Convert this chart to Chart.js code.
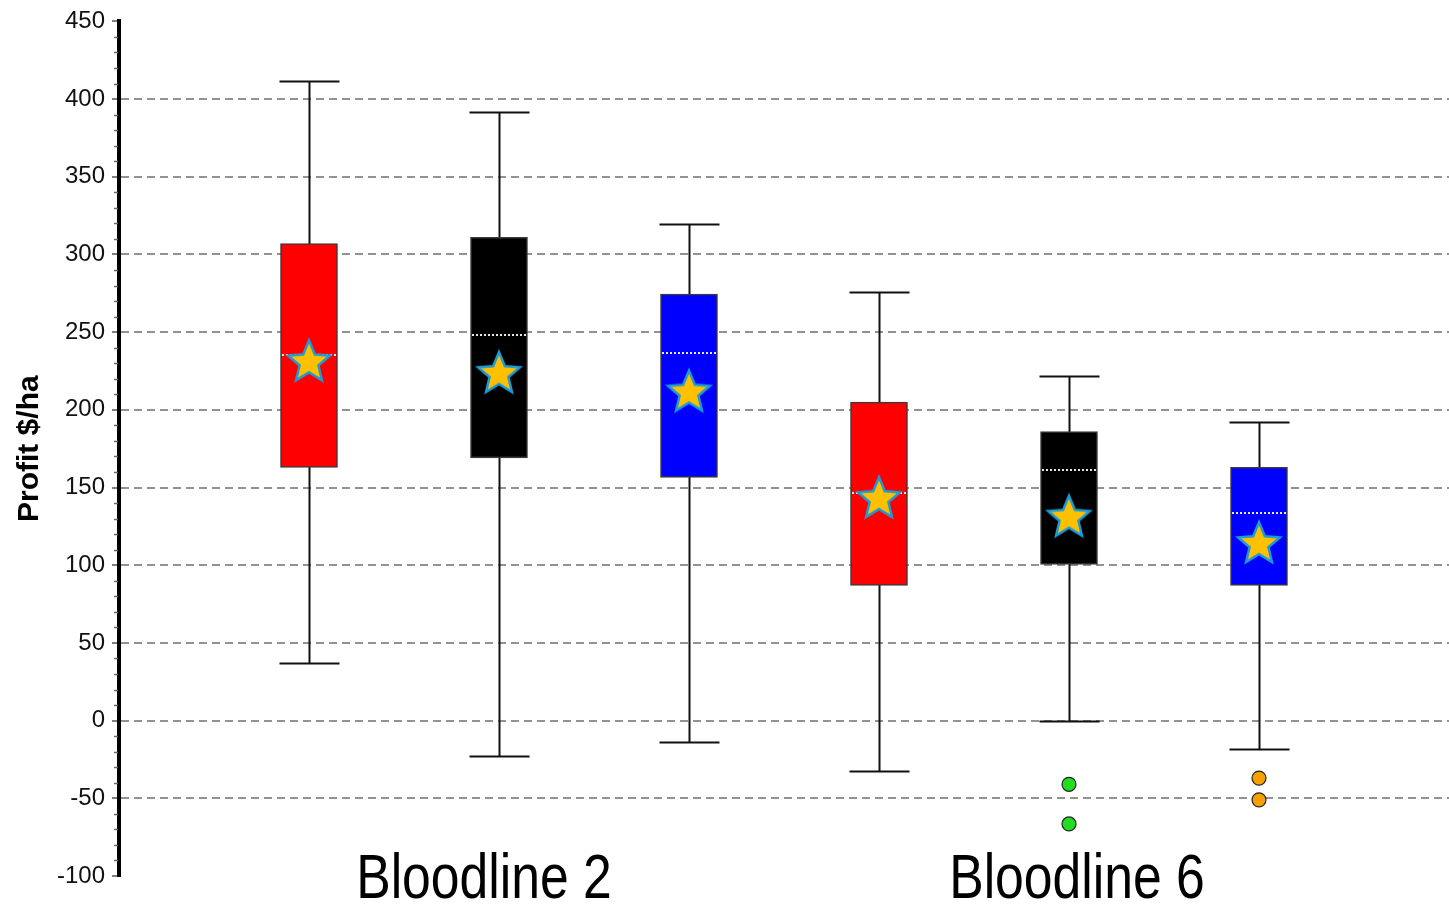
<!DOCTYPE html>
<html>
<head>
<meta charset="utf-8">
<script src="https://cdn.jsdelivr.net/npm/chart.js@4.4.1/dist/chart.umd.min.js"></script>
<style>
  html, body { margin: 0; padding: 0; background: #fff; }
  #wrap { width: 1449px; height: 907px; position: relative; }
</style>
</head>
<body>
<div id="wrap"><canvas id="boxChart"></canvas></div>
<script>
// ===== data =====
const groups = ['Bloodline 2', 'Bloodline 6'];
const groupAt = [2, 5];
const boxAt = [1, 2, 3, 4, 5, 6];
const boxColors = ['#FF0000', '#000000', '#0000FF', '#FF0000', '#000000', '#0000FF'];
const whiskerLow = [37, -23, -14, -32.5, 0, -18.5];
const q1 = [163, 169, 156.5, 87, 100.5, 87];
const median = [235, 248, 236.5, 146.5, 161.5, 133.5];
const q3 = [307, 311, 274.5, 205, 186, 163];
const whiskerHigh = [411.5, 392, 319.5, 276, 221.5, 192.5];
const means = [232, 224.5, 212.5, 144, 132, 115];
const outlierAt = [5, 5, 6, 6];
const outlierVals = [-41, -66.5, -37, -51];
const outlierColors = ['#22DD22', '#22DD22', '#F5A000', '#F5A000'];
const yTicks = [450, 400, 350, 300, 250, 200, 150, 100, 50, 0, -50, -100];

// star marker image (mean)
function makeStar(r) {
    const c = document.createElement('canvas');
    const s = Math.ceil(r * 2 + 6);
    c.width = s; c.height = s;
    const g = c.getContext('2d');
    g.translate(s / 2, s / 2 + r * 0.1);
    g.beginPath();
    for (let i = 0; i < 10; i++) {
        const rr = i % 2 === 0 ? r : r * 0.45;
        const a = -Math.PI / 2 + i * Math.PI / 5;
        g.lineTo(rr * Math.cos(a), rr * Math.sin(a));
    }
    g.closePath();
    g.fillStyle = '#FFC000';
    g.fill();
    g.lineWidth = 2.5;
    g.strokeStyle = '#1C9BD6';
    g.lineJoin = 'miter';
    g.stroke();
    return c;
}
const starImg = makeStar(22);

// small horizontal nudge of the group captions (px)
const labelNudge = [-15, 8];

// whiskers under the boxes, medians over them, group labels at the bottom
const whiskerPlugin = {
    id: 'whiskers',
    beforeDatasetsDraw(chart) {
        const ctx = chart.ctx, x = chart.scales.x, y = chart.scales.y;
        ctx.save();
        ctx.strokeStyle = '#111';
        ctx.lineWidth = 2;
        for (let i = 0; i < boxAt.length; i++) {
            const px = Math.round(x.getPixelForValue(boxAt[i])) + 0.5;
            const top = Math.round(y.getPixelForValue(whiskerHigh[i])) + 0.5;
            const bot = Math.round(y.getPixelForValue(whiskerLow[i])) + 0.5;
            ctx.beginPath();
            ctx.moveTo(px, top); ctx.lineTo(px, bot);
            ctx.moveTo(px - 30, top); ctx.lineTo(px + 30, top);
            ctx.moveTo(px - 30, bot); ctx.lineTo(px + 30, bot);
            ctx.stroke();
        }
        // minor ticks every 10
        ctx.strokeStyle = '#666';
        ctx.lineWidth = 1.5;
        const left = chart.chartArea.left;
        for (let v = -100; v <= 450; v += 10) {
            if (v % 50 === 0) continue;
            const py = Math.round(y.getPixelForValue(v)) + 0.5;
            ctx.beginPath();
            ctx.moveTo(left - 5, py); ctx.lineTo(left - 1, py);
            ctx.stroke();
        }
        ctx.restore();
    },
    afterDatasetDraw(chart, args) {
        if (chart.data.datasets[args.index].type !== 'bar') return;
        const ctx = chart.ctx, x = chart.scales.x, y = chart.scales.y;
        ctx.save();
        ctx.strokeStyle = '#E6E6E6';
        ctx.lineWidth = 2;
        ctx.setLineDash([2, 2]);
        for (let i = 0; i < boxAt.length; i++) {
            const px = x.getPixelForValue(boxAt[i]);
            const py = Math.round(y.getPixelForValue(median[i]));
            ctx.beginPath();
            ctx.moveTo(px - 27, py); ctx.lineTo(px + 27, py);
            ctx.stroke();
        }
        ctx.restore();
    },
    afterDraw(chart) {
        const ctx = chart.ctx, x = chart.scales.x;
        ctx.save();
        ctx.fillStyle = '#000';
        ctx.font = '63px "Liberation Sans", Arial, sans-serif';
        ctx.textAlign = 'center';
        ctx.textBaseline = 'alphabetic';
        for (let i = 0; i < groups.length; i++) {
            const px = x.getPixelForValue(groupAt[i]);
            ctx.save();
            ctx.translate(px + labelNudge[i], chart.chartArea.bottom + 22);
            ctx.scale(0.82, 1);
            ctx.fillText(groups[i], 0, 0);
            ctx.restore();
        }
        ctx.restore();
    }
};

const ctx = document.getElementById('boxChart').getContext('2d');
const boxChart = new Chart(ctx, {
    type: 'bar',
    data: {
        datasets: [
            {
                type: 'scatter',
                label: 'Mean',
                data: boxAt.map((b, i) => ({x: b, y: means[i]})),
                pointStyle: starImg,
                order: 0
            },
            {
                type: 'scatter',
                label: 'Outliers',
                data: outlierAt.map((b, i) => ({x: b, y: outlierVals[i]})),
                pointStyle: 'circle',
                pointRadius: 7,
                backgroundColor: outlierColors,
                borderColor: '#222',
                borderWidth: 1.2,
                order: 1
            },
            {
                type: 'bar',
                label: 'IQR',
                data: boxAt.map((b, i) => ({x: b, y: [q1[i], q3[i]]})),
                backgroundColor: boxColors,
                borderColor: '#3a3a3a',
                borderWidth: 1.5,
                borderSkipped: false,
                barThickness: 57,
                order: 2
            }
        ]
    },
    options: {
        responsive: true,
        maintainAspectRatio: false,
        animation: false,
        layout: { autoPadding: false, padding: { top: 21, bottom: 31, left: 0, right: 0 } },
        plugins: {
            legend: { display: false },
            tooltip: { enabled: false }
        },
        scales: {
            x: {
                type: 'linear',
                min: 0,
                max: 7,
                offset: false,
                display: false
            },
            y: {
                min: -100,
                max: 450,
                afterBuildTicks: function(scale) {
                    scale.ticks = yTicks.map(v => ({value: v}));
                },
                afterFit: function(scale) {
                    scale.width = 119;
                },
                ticks: {
                    color: '#111',
                    font: { family: '"Liberation Sans", Arial, sans-serif', size: 24 },
                    padding: 7
                },
                grid: {
                    color: function(c) {
                        const v = c.tick ? c.tick.value : null;
                        return (v === 450 || v === -100) ? 'rgba(0,0,0,0)' : '#929292';
                    },
                    lineWidth: 2,
                    tickColor: '#555',
                    tickLength: 7,
                    tickWidth: 1.5
                },
                border: { display: true, color: '#000', width: 4, dash: [8, 5] },
                title: {
                    display: true,
                    text: 'Profit $/ha',
                    color: '#000',
                    font: { family: '"Liberation Sans", Arial, sans-serif', size: 30, weight: 'bold' },
                    padding: { top: 12, bottom: 0 }
                }
            }
        }
    },
    plugins: [whiskerPlugin]
});
</script>
</body>
</html>
